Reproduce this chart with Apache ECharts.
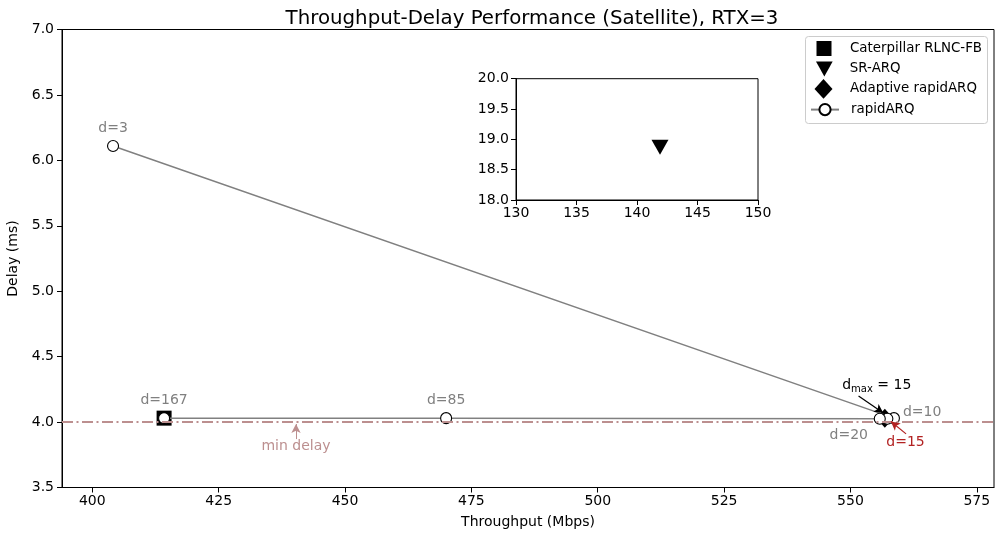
<!DOCTYPE html>
<html>
<head>
<meta charset="utf-8">
<script src="https://cdn.jsdelivr.net/npm/echarts@6/dist/echarts.min.js"></script>
<style>html,body{margin:0;padding:0;background:#fff}#c{width:995px;height:533px}</style>
</head>
<body>
<div id="c"></div>
<script>
// ---- data ----
const rapidThroughput = [404.1, 558.6, 557.3, 555.8, 470.0, 414.2];
const rapidDelay      = [6.11, 4.03, 4.025, 4.025, 4.03, 4.03];
const rapidLabels     = ['d=3', 'd=10', 'd=15', 'd=20', 'd=85', 'd=167'];
const caterpillarPts  = [[414.2, 4.03]];
const adaptivePts     = [[556.8, 4.03]];
const srarqPts        = [[141.9, 18.87]];
const minDelay = 4.0;
const xTicks = [400, 425, 450, 475, 500, 525, 550, 575];
// annotation anchors (data coords)
const dmaxText = [555.2, 4.28];
const dmaxArrow = [[551.6, 4.20], [556.5, 4.07]];
const d15Text = [560.9, 3.845];
const d15Arrow = [[561.0, 3.91], [558.0, 4.005]];
const minDelayText = [440.3, 3.815];
const minDelayArrow = [[440.3, 3.87], [440.3, 3.985]];

const FONT = 'DejaVu Sans';
const FS = 14;
const SQUARE = 'path://M0,0 L10,0 L10,10 L0,10 Z';
const TRI_DOWN = 'path://M0,0 L10,0 L5,9 Z';
const DIAMOND = 'path://M5,0 L10,5.5 L5,11 L0,5.5 Z';

const labelStyles = {
  'd=3':   {position: 'top', distance: 5},
  'd=167': {position: 'top', distance: 5},
  'd=85':  {position: 'top', distance: 5},
  'd=10':  {position: 'right', distance: 3, offset: [0, -6]},
  'd=20':  {position: 'bottom', distance: 4, offset: [-31, 0]},
  'd=15':  {show: false}
};

const rapidData = rapidThroughput.map((x, i) => ({
  value: [x, rapidDelay[i]],
  label: Object.assign({show: true, formatter: rapidLabels[i], color: '#808080', fontSize: FS, fontFamily: FONT}, labelStyles[rapidLabels[i]])
}));

// legend row: icon box centred at cx, text starts at x=850
function legendRow(name, cx, cy, w, h) {
  const left = cx - w / 2;
  return {
    left: left, top: cy - h / 2, orient: 'vertical', z: 101,
    padding: 0, itemWidth: w, itemHeight: h,
    textStyle: {fontFamily: FONT, fontSize: 13.4, color: '#000', padding: [0, 0, 0, 850 - (left + w + 5)]},
    data: [name]
  };
}

const chart = echarts.init(document.getElementById('c'), null, {renderer: 'canvas'});
chart.setOption({
  animation: false,
  backgroundColor: '#fff',
  textStyle: {fontFamily: FONT},
  title: {
    text: 'Throughput-Delay Performance (Satellite), RTX=3',
    left: 527, textAlign: 'center', top: 4,
    textStyle: {fontFamily: FONT, fontSize: 19.8, fontWeight: 'normal', color: '#000'}
  },
  graphic: [{
    type: 'rect', left: 805, top: 36, z: 100,
    shape: {width: 182, height: 87, r: 3},
    style: {fill: 'rgba(255,255,255,0.8)', stroke: '#cccccc', lineWidth: 1}
  }],
  legend: [
    legendRow('Caterpillar RLNC-FB', 824, 48.5, 15, 15),
    legendRow('SR-ARQ', 824.5, 69, 17, 15),
    legendRow('Adaptive rapidARQ', 823.5, 89, 18, 20),
    legendRow('rapidARQ', 824, 110, 28, 14)
  ],
  grid: [
    {left: 62, right: 1, top: 29.5, bottom: 45.5, show: true, borderColor: '#000', borderWidth: 1, containLabel: false, outerBoundsMode: 'none'},
    {left: 516, top: 78.7, width: 242, height: 121.3, show: true, borderColor: '#000', borderWidth: 1, backgroundColor: '#fff', containLabel: false, outerBoundsMode: 'none', z: 5}
  ],
  xAxis: [
    {
      type: 'value', gridIndex: 0, min: 394, max: 578.4,
      name: 'Throughput (Mbps)', nameLocation: 'middle', nameGap: 28,
      nameTextStyle: {fontFamily: FONT, fontSize: FS, color: '#000'},
      axisLine: {lineStyle: {color: '#000'}},
      axisTick: {show: true, length: 5, lineStyle: {color: '#000'}, customValues: xTicks},
      axisLabel: {fontFamily: FONT, fontSize: FS, color: '#000', margin: 7, customValues: xTicks},
      splitLine: {show: false}
    },
    {
      type: 'value', gridIndex: 1, min: 130, max: 150, interval: 5,
      axisLine: {lineStyle: {color: '#000'}},
      axisTick: {length: 5, lineStyle: {color: '#000'}},
      axisLabel: {fontFamily: FONT, fontSize: FS, color: '#000', margin: 6},
      splitLine: {show: false}, z: 6
    }
  ],
  yAxis: [
    {
      type: 'value', gridIndex: 0, min: 3.5, max: 7.0, interval: 0.5,
      name: 'Delay (ms)', nameLocation: 'middle', nameGap: 35,
      nameTextStyle: {fontFamily: FONT, fontSize: FS, color: '#000'},
      axisLine: {show: true, lineStyle: {color: '#000'}},
      axisTick: {show: true, length: 5, lineStyle: {color: '#000'}},
      axisLabel: {fontFamily: FONT, fontSize: FS, color: '#000', margin: 8, formatter: v => v.toFixed(1)},
      splitLine: {show: false}
    },
    {
      type: 'value', gridIndex: 1, min: 18, max: 20, interval: 0.5,
      axisLine: {show: true, lineStyle: {color: '#000'}},
      axisTick: {show: true, length: 5, lineStyle: {color: '#000'}},
      axisLabel: {fontFamily: FONT, fontSize: FS, color: '#000', margin: 7, formatter: v => v.toFixed(1)},
      splitLine: {show: false}, z: 6
    }
  ],
  series: [
    {
      name: 'Caterpillar RLNC-FB', type: 'scatter', xAxisIndex: 0, yAxisIndex: 0,
      symbol: SQUARE, symbolSize: 15, itemStyle: {color: '#000', opacity: 1}, z: 2,
      data: caterpillarPts,
      markLine: {
        silent: true, symbol: ['none', 'none'], label: {show: false},
        lineStyle: {color: '#bc8f8f', width: 1.8, type: [11, 3.5, 2, 3.5], opacity: 1},
        data: [{yAxis: minDelay}]
      }
    },
    {
      name: 'SR-ARQ', type: 'scatter', xAxisIndex: 1, yAxisIndex: 1,
      symbol: TRI_DOWN, symbolSize: [17, 15], itemStyle: {color: '#000', opacity: 1}, z: 7,
      data: srarqPts
    },
    {
      name: 'Adaptive rapidARQ', type: 'scatter', xAxisIndex: 0, yAxisIndex: 0,
      symbol: DIAMOND, symbolSize: [17, 19], itemStyle: {color: '#000', opacity: 1}, z: 2,
      data: adaptivePts
    },
    {
      name: 'rapidARQ', type: 'line', xAxisIndex: 0, yAxisIndex: 0, z: 3,
      symbol: 'circle', symbolSize: 11, showAllSymbol: true,
      lineStyle: {color: '#808080', width: 1.5},
      itemStyle: {color: '#fff', borderColor: '#000', borderWidth: 1.1},
      data: rapidData,
      markPoint: {
        silent: true, symbol: 'circle', symbolSize: 0,
        data: [
          {coord: dmaxText, label: {show: true, formatter: '{d|d}{s|max}{d| = 15}', rich: {d: {fontSize: FS, fontFamily: FONT, color: '#000'}, s: {fontSize: 10, fontFamily: FONT, color: '#000', verticalAlign: 'bottom', padding: [7, 0, 0, 0]}}}},
          {coord: d15Text, label: {show: true, formatter: 'd=15', fontSize: FS, fontFamily: FONT, color: '#b22222'}},
          {coord: minDelayText, label: {show: true, formatter: 'min delay', fontSize: FS, fontFamily: FONT, color: '#bc8f8f'}}
        ],
        label: {position: 'inside'}
      },
      markLine: {
        silent: true, symbol: ['none', 'arrow'], symbolSize: [7, 9], label: {show: false},
        data: [
          [{coord: dmaxArrow[0], lineStyle: {color: '#000', width: 1.2, type: 'solid'}}, {coord: dmaxArrow[1]}],
          [{coord: d15Arrow[0], lineStyle: {color: '#b22222', width: 1.2, type: 'solid'}}, {coord: d15Arrow[1]}],
          [{coord: minDelayArrow[0], lineStyle: {color: '#bc8f8f', width: 1, type: 'solid'}}, {coord: minDelayArrow[1]}]
        ]
      }
    }
  ]
});
</script>
</body>
</html>
